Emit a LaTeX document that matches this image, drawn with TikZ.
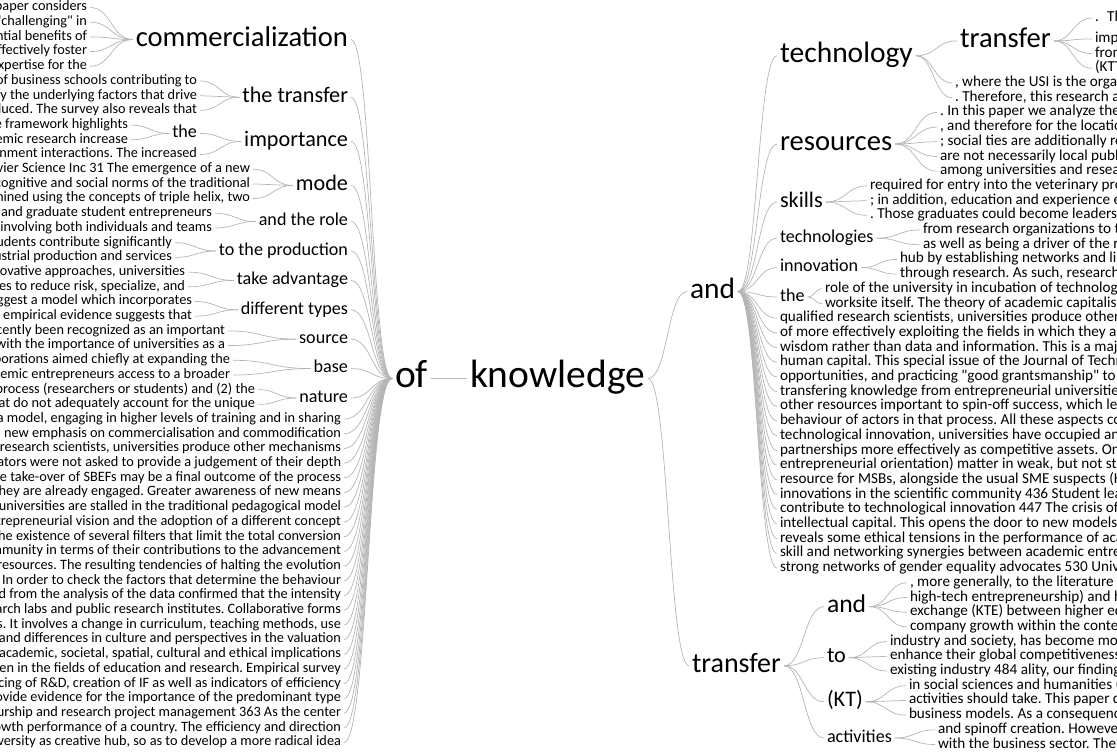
\documentclass[tikz,border=0pt]{standalone}
\usepackage{fontspec}
\setmainfont{Carlito}[Ligatures=TeXOff]
\usetikzlibrary{calc}
\definecolor{lkc}{HTML}{B4B4B4}
\frenchspacing
\newcommand\tstrut{\rule[-0.284em]{0pt}{1.034em}}
\tikzset{
 wt/.style={inner xsep=3pt, inner ysep=0pt, outer sep=0pt, text=black, execute at begin node=\tstrut\frenchspacing},
 lt/.style={wt, anchor=east},
 rt/.style={wt, anchor=west},
 f/.style={font=\fontsize{#1}{#1}\selectfont},
 ls/.style={lt, f=14.3},
 rs/.style={rt, f=15.2},
 lk/.style={draw=lkc, line width=0.7pt, to path={let \p1=(\tikztostart), \p2=(\tikztotarget) in .. controls ({(\x1+\x2)/2},\y1) and ({(\x1+\x2)/2},\y2) .. (\tikztotarget)}},
}
\begin{document}
\begin{tikzpicture}[x=1pt,y=-1pt]
\useasboundingbox (0,0) rectangle (1117,755);
\clip (0,0) rectangle (1117,755);
% ---------- centre ----------
\node[rt, f=39.5] (of) at (392,378.5) {of};
\node[rt, f=39.5] (know) at (467,378.5) {knowledge};
% ---------- left branches ----------
\node[lt, f=28.6] (commerc) at (351,39.5) {commercialization};
\node[lt, f=22.2] (thetransfer) at (351,97.3) {the transfer};
\node[lt, f=22.2] (importance) at (351,141.4) {importance};
\node[lt, f=18.1] (theL) at (200,133.5) {the};
\node[lt, f=22.2] (mode) at (351,185.5) {mode};
\node[lt, f=18.1] (role) at (351,221.5) {and the role};
\node[lt, f=18.1] (prod) at (351,251) {to the production};
\node[lt, f=18.1] (adv) at (351,280.4) {take advantage};
\node[lt, f=18.1] (types) at (351,309.8) {different types};
\node[lt, f=18.1] (source) at (351,339.2) {source};
\node[lt, f=18.1] (baseN) at (351,368.6) {base};
\node[lt, f=18.1] (nature) at (351,398) {nature};
% ---------- left rows ----------
\node[ls] (l1) at (90,7.5) {This paper considers};
\node[ls] (l2) at (90,22.2) {as "challenging" in};
\node[ls] (l3) at (90,36.9) {potential benefits of};
\node[ls] (l4) at (90,51.6) {effectively foster};
\node[ls] (l5) at (90,66.3) {expertise for the};
\node[ls] (l6) at (200,81.0) {of business schools contributing to};
\node[ls] (l7) at (200,95.7) {identify the underlying factors that drive};
\node[ls] (l8) at (200,110.4) {produced. The survey also reveals that};
\node[ls] (l9) at (131,125.1) {The framework highlights};
\node[ls] (l10) at (131,139.8) {academic research increase};
\node[ls] (l11) at (200,154.5) {government interactions. The increased};
\node[ls] (l12) at (253,169.2) {Elsevier Science Inc 31 The emergence of a new};
\node[ls] (l13) at (253,183.9) {cognitive and social norms of the traditional};
\node[ls] (l14) at (253,198.6) {examined using the concepts of triple helix, two};
\node[ls] (l15) at (215,213.3) {and graduate student entrepreneurs};
\node[ls] (l16) at (215,228.0) {involving both individuals and teams};
\node[ls] (l17) at (175,242.7) {students contribute significantly};
\node[ls] (l18) at (175,257.4) {industrial production and services};
\node[ls] (l19) at (188,272.1) {innovative approaches, universities};
\node[ls] (l20) at (188,286.8) {strategies to reduce risk, specialize, and};
\node[ls] (l21) at (195,301.5) {suggest a model which incorporates};
\node[ls] (l22) at (195,316.2) {empirical evidence suggests that};
\node[ls] (l23) at (228,330.9) {has recently been recognized as an important};
\node[ls] (l24) at (228,345.6) {in conjunction with the importance of universities as a};
\node[ls] (l25) at (233,360.3) {collaborations aimed chiefly at expanding the};
\node[ls] (l26) at (233,375.0) {give academic entrepreneurs access to a broader};
\node[ls] (l27) at (258,389.7) {the process (researchers or students) and (2) the};
\node[ls] (l28) at (258,404.4) {that do not adequately account for the unique};
\node[ls] (l29) at (344,419.1) {a model, engaging in higher levels of training and in sharing};
\node[ls] (l30) at (344,433.8) {a new emphasis on commercialisation and commodification};
\node[ls] (l31) at (344,448.5) {qualified research scientists, universities produce other mechanisms};
\node[ls] (l32) at (344,463.2) {the creators were not asked to provide a judgement of their depth};
\node[ls] (l33) at (344,477.9) {The take-over of SBEFs may be a final outcome of the process};
\node[ls] (l34) at (344,492.6) {in which they are already engaged. Greater awareness of new means};
\node[ls] (l35) at (344,507.3) {universities are stalled in the traditional pedagogical model};
\node[ls] (l36) at (344,522.0) {entrepreneurial vision and the adoption of a different concept};
\node[ls] (l37) at (344,536.7) {the existence of several filters that limit the total conversion};
\node[ls] (l38) at (344,551.4) {community in terms of their contributions to the advancement};
\node[ls] (l39) at (344,566.1) {resources. The resulting tendencies of halting the evolution};
\node[ls] (l40) at (344,580.8) {process. In order to check the factors that determine the behaviour};
\node[ls] (l41) at (344,595.5) {found from the analysis of the data confirmed that the intensity};
\node[ls] (l42) at (344,610.2) {research labs and public research institutes. Collaborative forms};
\node[ls] (l43) at (344,624.9) {process. It involves a change in curriculum, teaching methods, use};
\node[ls] (l44) at (344,639.6) {and differences in culture and perspectives in the valuation};
\node[ls] (l45) at (344,654.3) {the academic, societal, spatial, cultural and ethical implications};
\node[ls] (l46) at (344,669.0) {even in the fields of education and research. Empirical survey};
\node[ls] (l47) at (344,683.7) {financing of R\&D, creation of IF as well as indicators of efficiency};
\node[ls] (l48) at (344,698.4) {provide evidence for the importance of the predominant type};
\node[ls] (l49) at (344,713.1) {entrepreneurship and research project management 363 As the center};
\node[ls] (l50) at (344,727.8) {growth performance of a country. The efficiency and direction};
\node[ls] (l51) at (344,742.5) {university as creative hub, so as to develop a more radical idea};
% ---------- right branches ----------
\node[rt, f=29.4] (andT) at (687,291.5) {and};
\node[rt, f=28] (transB) at (689,665.8) {transfer};
\node[rt, f=29.5] (tech) at (777,55.8) {technology};
\node[rt, f=28.6] (transT) at (957,40.9) {transfer};
\node[rt, f=28.6] (res) at (777,144) {resources};
\node[rt, f=22.2] (skills) at (777,202) {skills};
\node[rt, f=18.1] (techs) at (777,238.2) {technologies};
\node[rt, f=18.1] (innov) at (777,267.6) {innovation};
\node[rt, f=18.1] (theR) at (777,297) {the};
\node[rt, f=25.6] (andB) at (824,606.6) {and};
\node[rt, f=22.2] (to) at (824,657.7) {to};
\node[rt, f=22.2] (kt) at (824,701.8) {(KT)};
\node[rt, f=18.1] (act) at (824,738) {activities};
% ---------- right rows ----------
\node[rs] (r2) at (1092,18) {.\hspace{0.55em}The};
\node[rs] (r3) at (1092,38.9) {important};
\node[rs] (r4) at (1092,53.6) {from};
\node[rs] (r5) at (1092,68.3) {(KTT)};
\node[rs] (r6) at (952,83.0) {, where the USI is the organization};
\node[rs] (r7) at (952,97.7) {. Therefore, this research aims};
\node[rs] (r8) at (937,112.4) {. In this paper we analyze the role};
\node[rs] (r9) at (937,127.1) {, and therefore for the location};
\node[rs] (r10) at (937,141.8) {; social ties are additionally relevant};
\node[rs] (r11) at (937,156.5) {are not necessarily local public};
\node[rs] (r12) at (937,171.2) {among universities and research};
\node[rs] (r13) at (867,185.9) {required for entry into the veterinary profession};
\node[rs] (r14) at (867,200.6) {; in addition, education and experience enhance};
\node[rs] (r15) at (867,215.3) {. Those graduates could become leaders in};
\node[rs] (r16) at (920,230.0) {from research organizations to the};
\node[rs] (r17) at (920,244.7) {as well as being a driver of the regional};
\node[rs] (r18) at (897,259.4) {hub by establishing networks and links};
\node[rs] (r19) at (897,274.1) {through research. As such, research};
\node[rs] (r20) at (822,288.8) {role of the university in incubation of technology};
\node[rs] (r21) at (822,303.5) {worksite itself. The theory of academic capitalism};
\node[rs] (r22) at (777,318.2) {qualified research scientists, universities produce other mechanisms};
\node[rs] (r23) at (777,332.9) {of more effectively exploiting the fields in which they are active};
\node[rs] (r24) at (777,347.6) {wisdom rather than data and information. This is a major};
\node[rs] (r25) at (777,362.3) {human capital. This special issue of the Journal of Technology};
\node[rs] (r26) at (777,377.0) {opportunities, and practicing "good grantsmanship" to compete};
\node[rs] (r27) at (777,391.7) {transfering knowledge from entrepreneurial universities to};
\node[rs] (r28) at (777,406.4) {other resources important to spin-off success, which leads};
\node[rs] (r29) at (777,421.1) {behaviour of actors in that process. All these aspects contribute};
\node[rs] (r30) at (777,435.8) {technological innovation, universities have occupied an important};
\node[rs] (r31) at (777,450.5) {partnerships more effectively as competitive assets. On the other};
\node[rs] (r32) at (777,465.2) {entrepreneurial orientation) matter in weak, but not strong};
\node[rs] (r33) at (777,479.9) {resource for MSBs, alongside the usual SME suspects (Hayton};
\node[rs] (r34) at (777,494.6) {innovations in the scientific community 436 Student learning};
\node[rs] (r35) at (777,509.3) {contribute to technological innovation 447 The crisis of the};
\node[rs] (r36) at (777,524.0) {intellectual capital. This opens the door to new models of};
\node[rs] (r37) at (777,538.7) {reveals some ethical tensions in the performance of academic};
\node[rs] (r38) at (777,553.4) {skill and networking synergies between academic entrepreneurs};
\node[rs] (r39) at (777,568.1) {strong networks of gender equality advocates 530 University};
\node[rs] (r40) at (907,582.8) {, more generally, to the literature on};
\node[rs] (r41) at (907,597.5) {high-tech entrepreneurship) and hence};
\node[rs] (r42) at (907,612.2) {exchange (KTE) between higher education};
\node[rs] (r43) at (907,626.9) {company growth within the context};
\node[rs] (r44) at (887,641.6) {industry and society, has become more};
\node[rs] (r45) at (887,656.3) {enhance their global competitiveness. The};
\node[rs] (r46) at (887,671.0) {existing industry 484 ality, our findings};
\node[rs] (r47) at (906,685.7) {in social sciences and humanities (SSH)};
\node[rs] (r48) at (906,700.4) {activities should take. This paper discusses};
\node[rs] (r49) at (906,715.1) {business models. As a consequence};
\node[rs] (r50) at (935,729.8) {and spinoff creation. However};
\node[rs] (r51) at (935,744.5) {with the business sector. The};
% ---------- connectors ----------
\draw[lk] (of.east) to (know.west);
\foreach \nm in {commerc,thetransfer,importance,mode,role,prod,adv,types,source,baseN,nature}
  \draw[lk] (of.west) to (\nm.east);
\foreach \i in {29,...,51} \draw[lk] (of.west) to (l\i.east);
\foreach \i in {1,...,5} \draw[lk] (commerc.west) to (l\i.east);
\foreach \i in {6,7,8} \draw[lk] (thetransfer.west) to (l\i.east);
\draw[lk] (importance.west) to (theL.east);
\draw[lk] (importance.west) to (l11.east);
\foreach \i in {9,10} \draw[lk] (theL.west) to (l\i.east);
\foreach \i in {12,13,14} \draw[lk] (mode.west) to (l\i.east);
\foreach \i in {15,16} \draw[lk] (role.west) to (l\i.east);
\foreach \i in {17,18} \draw[lk] (prod.west) to (l\i.east);
\foreach \i in {19,20} \draw[lk] (adv.west) to (l\i.east);
\foreach \i in {21,22} \draw[lk] (types.west) to (l\i.east);
\foreach \i in {23,24} \draw[lk] (source.west) to (l\i.east);
\foreach \i in {25,26} \draw[lk] (baseN.west) to (l\i.east);
\foreach \i in {27,28} \draw[lk] (nature.west) to (l\i.east);
\draw[lk] (know.east) to (andT.west);
\draw[lk] (know.east) to (transB.west);
\foreach \nm in {tech,res,skills,techs,innov,theR} \draw[lk] (andT.east) to (\nm.west);
\foreach \i in {22,...,39} \draw[lk] (andT.east) to (r\i.west);
\draw[lk] (tech.east) to (transT.west);
\foreach \i in {2,3,4,5} \draw[lk] (transT.east) to (r\i.west);
\foreach \i in {6,7} \draw[lk] (tech.east) to (r\i.west);
\foreach \i in {8,...,12} \draw[lk] (res.east) to (r\i.west);
\foreach \i in {13,14,15} \draw[lk] (skills.east) to (r\i.west);
\foreach \i in {16,17} \draw[lk] (techs.east) to (r\i.west);
\foreach \i in {18,19} \draw[lk] (innov.east) to (r\i.west);
\foreach \i in {20,21} \draw[lk] (theR.east) to (r\i.west);
\foreach \nm in {andB,to,kt,act} \draw[lk] (transB.east) to (\nm.west);
\foreach \i in {40,...,43} \draw[lk] (andB.east) to (r\i.west);
\foreach \i in {44,45,46} \draw[lk] (to.east) to (r\i.west);
\foreach \i in {47,48,49} \draw[lk] (kt.east) to (r\i.west);
\foreach \i in {50,51} \draw[lk] (act.east) to (r\i.west);
\end{tikzpicture}
\end{document}
